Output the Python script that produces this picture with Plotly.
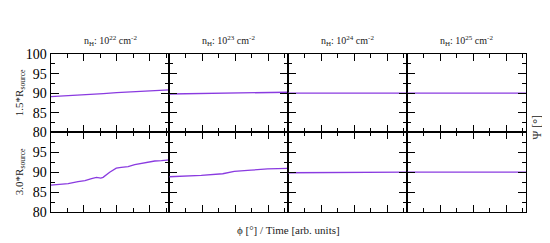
import plotly.graph_objects as go

W, H = 550, 243

column_titles = ["n<sub>H</sub>: 10<sup>22</sup> cm<sup>-2</sup>",
                 "n<sub>H</sub>: 10<sup>23</sup> cm<sup>-2</sup>",
                 "n<sub>H</sub>: 10<sup>24</sup> cm<sup>-2</sup>",
                 "n<sub>H</sub>: 10<sup>25</sup> cm<sup>-2</sup>"]
row_titles = ["1.5*R<sub>source</sub>", "3.0*R<sub>source</sub>"]
x_title = "ϕ [°] / Time [arb. units]"
y_title = "Ψ [°]"

# top row (1.5 R_source)
phi_r1c1 = [0, 40, 80, 120, 160, 200, 240, 280, 320, 360]
psi_r1c1 = [89.15, 89.3, 89.45, 89.65, 89.9, 90.15, 90.35, 90.55, 90.75, 90.85]
phi_r1c2 = [0, 60, 120, 180, 240, 300, 360]
psi_r1c2 = [89.8, 89.85, 89.95, 90.05, 90.15, 90.2, 90.25]
phi_r1c3 = [0, 120, 240, 360]
psi_r1c3 = [90.0, 90.0, 90.0, 90.0]
phi_r1c4 = [0, 120, 240, 360]
psi_r1c4 = [90.0, 90.0, 90.0, 90.0]

# bottom row (3.0 R_source)
phi_r2c1 = [0, 22, 53, 83, 104, 124, 139, 152, 159, 179, 199, 214, 235, 255, 275, 296, 316, 336, 356, 360]
psi_r2c1 = [86.75, 86.9, 87.1, 87.6, 87.9, 88.4, 88.7, 88.5, 88.7, 90.0, 91.0, 91.2, 91.4, 91.9, 92.2, 92.6, 92.8, 92.9, 93.1, 93.1]
phi_r2c2 = [0, 46, 97, 162, 197, 248, 298, 360]
psi_r2c2 = [88.85, 89.0, 89.2, 89.6, 90.2, 90.5, 90.8, 90.95]
phi_r2c3 = [0, 120, 240, 360]
psi_r2c3 = [89.85, 89.9, 89.95, 90.0]
phi_r2c4 = [0, 120, 240, 360]
psi_r2c4 = [90.0, 90.0, 90.0, 90.0]

series = [[(phi_r1c1, psi_r1c1), (phi_r1c2, psi_r1c2), (phi_r1c3, psi_r1c3), (phi_r1c4, psi_r1c4)],
          [(phi_r2c1, psi_r2c1), (phi_r2c2, psi_r2c2), (phi_r2c3, psi_r2c3), (phi_r2c4, psi_r2c4)]]

x_edges = [42.7, 161.3, 280.0, 399.3, 518.3]
y_edges = [41.7, 125.0, 210.0]

LINE_COLOR = "#8a3be0"
FONT = "Times New Roman, Liberation Serif, DejaVu Serif, serif"

fig = go.Figure()
layout = dict(width=W, height=H, margin=dict(l=0, r=0, t=0, b=0),
              paper_bgcolor="white", plot_bgcolor="white", showlegend=False,
              font=dict(family=FONT, color="black"))

annotations = []
k = 0
for r in range(2):
    for c in range(4):
        k += 1
        xa = "xaxis" if k == 1 else f"xaxis{k}"
        ya = "yaxis" if k == 1 else f"yaxis{k}"
        xref = "x" if k == 1 else f"x{k}"
        yref = "y" if k == 1 else f"y{k}"
        xs, ys = series[r][c]
        fig.add_trace(go.Scatter(x=xs, y=ys, mode="lines", xaxis=xref, yaxis=yref,
                                 line=dict(color=LINE_COLOR, width=1.3)))
        layout[xa] = dict(domain=[x_edges[c] / W, x_edges[c + 1] / W], anchor=yref,
                          range=[0, 360], showgrid=False, zeroline=False,
                          showline=True, linecolor="black", linewidth=1.3, mirror="allticks",
                          ticks="inside", ticklen=7, tickwidth=1.2, tickcolor="black",
                          tickvals=[100, 200, 300], showticklabels=False,
                          minor=dict(tickvals=[50, 150, 250, 350], ticklen=4, tickwidth=1.2,
                                     tickcolor="black", ticks="inside"))
        if r == 0:
            ytext = ["80", "85", "90", "95", "100"]
        else:
            ytext = ["80", "85", "90", "95", ""]
        layout[ya] = dict(domain=[1 - y_edges[r + 1] / H, 1 - y_edges[r] / H], anchor=xref,
                          range=[80, 100], showgrid=False, zeroline=False,
                          showline=True, linecolor="black", linewidth=1.3, mirror="allticks",
                          ticks="inside", ticklen=8, tickwidth=1.2, tickcolor="black",
                          tickvals=[80, 85, 90, 95, 100], ticktext=ytext,
                          showticklabels=(c == 0),
                          tickfont=dict(family=FONT, size=14, color="black"),
                          minor=dict(tickvals=[82.5, 87.5, 92.5, 97.5], ticklen=4, tickwidth=1.2,
                                     tickcolor="black", ticks="inside"))

for c in range(4):
    annotations.append(dict(text=column_titles[c], x=(x_edges[c] + x_edges[c + 1]) / 2 / W,
                            y=1 - 28 / H, xref="paper", yref="paper", showarrow=False,
                            xanchor="center", yanchor="middle",
                            font=dict(family=FONT, size=10, color="#222")))
for r in range(2):
    annotations.append(dict(text=row_titles[r], x=12 / W,
                            y=1 - (y_edges[r] + y_edges[r + 1]) / 2 / H,
                            xref="paper", yref="paper", showarrow=False, textangle=-90,
                            xanchor="center", yanchor="middle",
                            font=dict(family=FONT, size=11, color="#222")))
annotations.append(dict(text=x_title, x=(x_edges[0] + x_edges[-1]) / 2 / W, y=1 - 229 / H,
                        xref="paper", yref="paper", showarrow=False,
                        xanchor="center", yanchor="middle",
                        font=dict(family=FONT, size=11, color="#222")))
annotations.append(dict(text=y_title, x=529 / W, y=1 - 120 / H,
                        xref="paper", yref="paper", showarrow=False, textangle=-90,
                        xanchor="center", yanchor="middle",
                        font=dict(family=FONT, size=12, color="#222")))

layout["annotations"] = annotations
fig.update_layout(**layout)
fig.write_html("out.html")
